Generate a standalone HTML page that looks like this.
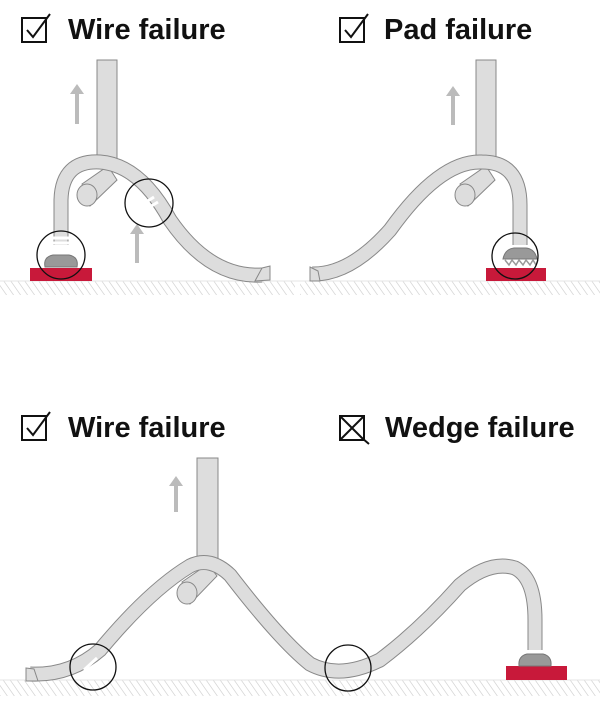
<!DOCTYPE html>
<html><head><meta charset="utf-8"><style>
html,body{margin:0;padding:0;background:#fff;}
.t{position:absolute;font-family:"Liberation Sans",sans-serif;font-weight:bold;font-size:29px;color:#111;}
</style></head><body>
<div style="position:relative;width:600px;height:712px;overflow:hidden">
<svg width="600" height="712" viewBox="0 0 600 712" style="position:absolute;left:0;top:0">
<defs>
<pattern id="h" width="7" height="14" patternUnits="userSpaceOnUse" patternTransform="skewX(35)">
<line x1="3" y1="0" x2="3" y2="14" stroke="#d8d8d8" stroke-width="1"/>
</pattern>
</defs>
<g fill="none" stroke="#111" stroke-width="2">
<rect x="22" y="18" width="24" height="24"/><path d="M27 30 L33 37 L50 14"/>
<rect x="340" y="18" width="24" height="24"/><path d="M345 30 L351 37 L368 14"/>
<rect x="22" y="416" width="24" height="24"/><path d="M27 428 L33 435 L50 412"/>
<rect x="340" y="416" width="24" height="24"/><path d="M340 416 L364 440 M364 416 L340 440 M362 438 L369 444"/>
</g>
<rect x="0" y="281" width="295" height="14" fill="url(#h)"/>
<rect x="300" y="281" width="300" height="14" fill="url(#h)"/>
<rect x="0" y="680" width="600" height="16" fill="url(#h)"/>
<line x1="0" y1="281" x2="600" y2="281" stroke="#e6e6e6"/>
<line x1="0" y1="680" x2="600" y2="680" stroke="#e6e6e6"/>
<g stroke="#bbb" stroke-width="4" fill="#bbb">
<line x1="77" y1="124" x2="77" y2="92"/><path d="M70 94 L77 84 L84 94Z" stroke="none"/>
<line x1="137" y1="263" x2="137" y2="232"/><path d="M130 234 L137 224 L144 234Z" stroke="none"/>
<line x1="453" y1="125" x2="453" y2="94"/><path d="M446 96 L453 86 L460 96Z" stroke="none"/>
<line x1="176" y1="512" x2="176" y2="484"/><path d="M169 486 L176 476 L183 486Z" stroke="none"/>
</g>
<g fill="#ddd" stroke="#888" stroke-width="1">
<rect x="97" y="60" width="20" height="105"/>
<rect x="476" y="60" width="20" height="105"/>
<rect x="197" y="458" width="21" height="108"/>
</g>
<g fill="#c8193a">
<rect x="30" y="268" width="62" height="13"/>
<rect x="486" y="268" width="60" height="13"/>
<rect x="506" y="666" width="61" height="14"/>
</g>
<g fill="#ddd" stroke="#888" stroke-width="1">
<path d="M82 184 L108 166 L117 180 L90 206Z"/><ellipse cx="87" cy="195" rx="10" ry="11"/>
<path d="M460 184 L486 166 L495 180 L468 206Z"/><ellipse cx="465" cy="195" rx="10" ry="11"/>
<path d="M182 582 L208 564 L217 576 L190 604Z"/><ellipse cx="187" cy="593" rx="10" ry="11"/>
</g>
<g fill="none" stroke-linecap="butt">
<g stroke="#888" stroke-width="15">
<path d="M61 245 L61 200 Q62 160 100 162 Q140 165 170 220 Q210 278 262 275"/>
<path d="M312 274 Q350 275 390 230 Q440 160 482 162 Q520 162 520 205 L520 245"/>
<path d="M30 674 Q70 676 100 650 Q150 590 190 566 Q210 556 230 575 Q280 640 310 664 Q340 680 380 660 Q420 630 460 585 Q490 560 515 568 Q535 578 535 620 L535 650"/>
</g>
<g stroke="#ddd" stroke-width="13">
<path d="M61 245 L61 200 Q62 160 100 162 Q140 165 170 220 Q210 278 262 275"/>
<path d="M312 274 Q350 275 390 230 Q440 160 482 162 Q520 162 520 205 L520 245"/>
<path d="M30 674 Q70 676 100 650 Q150 590 190 566 Q210 556 230 575 Q280 640 310 664 Q340 680 380 660 Q420 630 460 585 Q490 560 515 568 Q535 578 535 620 L535 650"/>
</g>
</g>
<g fill="#ddd" stroke="#888" stroke-width="1">
<path d="M262 268 L270 266 L270 280 L255 281Z"/>
<path d="M310 267 L318 271 L320 281 L310 281Z"/>
<path d="M26 668 L34 669 L38 681 L26 681Z"/>
</g>
<g stroke="#fff" stroke-width="3">
<line x1="53" y1="238" x2="69" y2="238"/><line x1="53" y1="243" x2="69" y2="243"/>
<line x1="140" y1="206" x2="154" y2="197"/><line x1="143" y1="211" x2="158" y2="202"/>
<line x1="84" y1="670" x2="97" y2="658"/><line x1="87" y1="675" x2="101" y2="662"/>
</g>
<path d="M45 267 Q43 257 53 255 L69 255 Q79 257 77 267Z" fill="#999" stroke="#777"/>
<path d="M503 259 Q505 249 514 248 L526 248 Q535 249 537 259Z" fill="#999" stroke="#777"/>
<path d="M505 260 l4 5 l3 -5 l4 5 l3 -5 l4 5 l3 -5 l4 5 l3 -5 l3 5 l2-5" fill="none" stroke="#999" stroke-width="1.5"/>
<path d="M519 666 Q518 656 527 654 L543 654 Q552 656 551 666Z" fill="#999" stroke="#777"/>
<g fill="none" stroke="#111" stroke-width="1.3">
<circle cx="61" cy="255" r="24"/>
<circle cx="149" cy="203" r="24"/>
<circle cx="515" cy="256" r="23"/>
<circle cx="93" cy="667" r="23"/>
<circle cx="348" cy="668" r="23"/>
</g>
</svg>
<div class="t" style="left:68px;top:14px">Wire failure</div>
<div class="t" style="left:384px;top:14px">Pad failure</div>
<div class="t" style="left:68px;top:412px">Wire failure</div>
<div class="t" style="left:385px;top:412px">Wedge failure</div>
</div>
</body></html>
